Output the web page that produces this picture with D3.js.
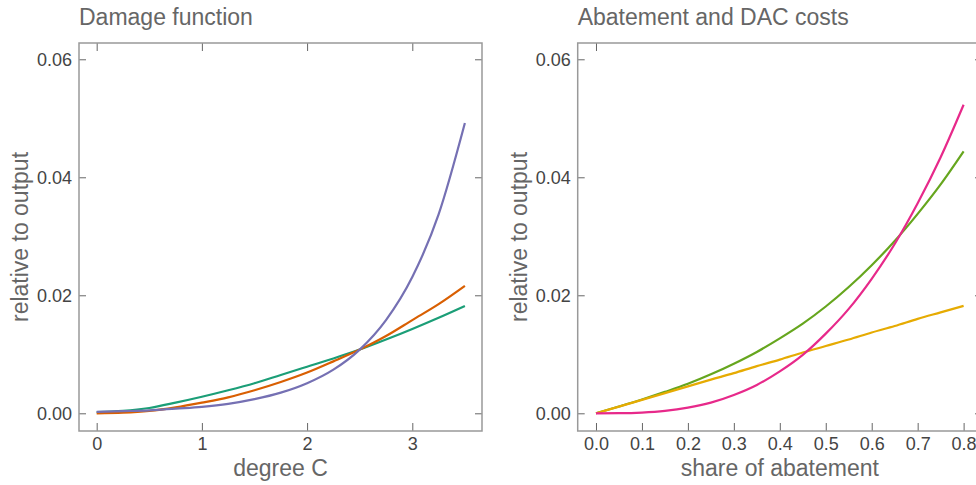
<!DOCTYPE html>
<html>
<head>
<meta charset="utf-8">
<script src="https://cdn.jsdelivr.net/npm/d3@7"></script>
<style>
  body { margin: 0; background: #fff; }
  svg { display: block; font-family: "Liberation Sans", Arial, sans-serif; }
  .tick text { fill: #444; font-size: 18px; }
  .tick line { stroke: #666; stroke-width: 1; }
  .title, .label { fill: #666; font-size: 23px; }
</style>
</head>
<body>
<div id="chart"></div>
<script>
(function() {
  var width = 976;
  var height = 485;

  // damage function, x = degree C
  var degrees = [0, 0.25, 0.5, 0.75, 1, 1.25, 1.5, 1.75, 2, 2.25, 2.5, 2.75, 3, 3.25, 3.5];
  var damageGreen = [0.0002, 0.0004, 0.0009, 0.0018, 0.0028, 0.0039, 0.0051, 0.0065, 0.0079, 0.0093, 0.0108, 0.0125, 0.0143, 0.0162, 0.0182];
  var damageOrange = [0.0000, 0.0001, 0.0004, 0.0010, 0.0018, 0.0027, 0.0039, 0.0053, 0.0069, 0.0088, 0.0108, 0.0131, 0.0158, 0.0185, 0.0216];
  var damagePurple = [0.00025, 0.00036, 0.0005, 0.0008, 0.0011, 0.0016, 0.0024, 0.0035, 0.0051, 0.0074, 0.0108, 0.0158, 0.0231, 0.0337, 0.0492];

  // abatement and DAC costs, x = share of abatement
  var shares = [0, 0.05, 0.1, 0.15, 0.2, 0.25, 0.3, 0.35, 0.4, 0.45, 0.5, 0.55, 0.6, 0.65, 0.7, 0.75, 0.8];
  var costPink = [0, 0.00002, 0.00013, 0.00041, 0.00095, 0.0018, 0.0031, 0.0048, 0.0071, 0.0099, 0.0135, 0.0177, 0.0228, 0.0287, 0.0356, 0.0434, 0.0523];
  var costGreen = [0, 0.00115, 0.00234, 0.00363, 0.0050, 0.0066, 0.0084, 0.0104, 0.0127, 0.0152, 0.0181, 0.0214, 0.0251, 0.0292, 0.0338, 0.0388, 0.0444];
  var costYellow = [0, 0.00114, 0.00228, 0.00342, 0.00456, 0.0057, 0.0068, 0.0080, 0.0091, 0.0103, 0.0114, 0.0125, 0.0137, 0.0148, 0.0160, 0.0171, 0.0182];

  var yTicks = [0, 0.02, 0.04, 0.06];
  var degreeTicks = [0, 1, 2, 3];
  var shareTicks = [0, 0.1, 0.2, 0.3, 0.4, 0.5, 0.6, 0.7, 0.8];

  var top = 43, bottom = 431;

  var svg = d3.select('#chart').append('svg')
    .attr('width', width)
    .attr('height', height);

  var y = d3.scaleLinear().domain([-0.003, 0.06276]).range([bottom, top]);

  drawPanel({
    left: 79, right: 482,
    xDomain: [-0.168, 3.6625],
    xTicks: degreeTicks,
    topTicks: degreeTicks,
    format: d3.format('d'),
    title: 'Damage function',
    xLabel: 'degree C',
    xs: degrees,
    series: [
      { values: damageGreen, color: '#1b9e77' },
      { values: damageOrange, color: '#d95f02' },
      { values: damagePurple, color: '#7570b3' }
    ]
  });

  drawPanel({
    left: 577.7, right: 982,
    xDomain: [-0.0398, 0.84],
    xTicks: shareTicks,
    topTicks: [0],
    format: d3.format('.1f'),
    title: 'Abatement and DAC costs',
    xLabel: 'share of abatement',
    xs: shares,
    series: [
      { values: costGreen, color: '#66a61e' },
      { values: costYellow, color: '#e6ab02' },
      { values: costPink, color: '#e7298a' }
    ]
  });

  function drawPanel(p) {
    var x = d3.scaleLinear().domain(p.xDomain).range([p.left, p.right]);
    var g = svg.append('g');

    g.append('g')
      .attr('transform', 'translate(0,' + bottom + ')')
      .call(d3.axisBottom(x).tickValues(p.xTicks).tickFormat(p.format).tickSizeInner(-8).tickSizeOuter(0).tickPadding(6))
      .call(cleanAxis);

    g.append('g')
      .attr('transform', 'translate(0,' + top + ')')
      .call(d3.axisTop(x).tickValues(p.topTicks).tickFormat('').tickSizeInner(-8).tickSizeOuter(0))
      .call(cleanAxis);

    g.append('g')
      .attr('transform', 'translate(' + p.left + ',0)')
      .call(d3.axisLeft(y).tickValues(yTicks).tickFormat(d3.format('.2f')).tickSizeInner(-7).tickSizeOuter(0).tickPadding(7))
      .call(cleanAxis);

    g.append('g')
      .attr('transform', 'translate(' + p.right + ',0)')
      .call(d3.axisRight(y).tickValues(yTicks).tickFormat('').tickSizeInner(-7).tickSizeOuter(0))
      .call(cleanAxis);

    g.append('rect')
      .attr('x', p.left)
      .attr('y', top)
      .attr('width', p.right - p.left)
      .attr('height', bottom - top)
      .attr('fill', 'none')
      .attr('stroke', '#999')
      .attr('stroke-width', 1.5);

    var line = d3.line()
      .x(function(d) { return x(d[0]); })
      .y(function(d) { return y(d[1]); })
      .curve(d3.curveMonotoneX);

    p.series.forEach(function(s) {
      g.append('path')
        .datum(p.xs.map(function(v, i) { return [v, s.values[i]]; }))
        .attr('d', line)
        .attr('fill', 'none')
        .attr('stroke', s.color)
        .attr('stroke-width', 2.2);
    });

    g.append('text')
      .attr('class', 'title')
      .attr('x', p.left)
      .attr('y', 25)
      .text(p.title);

    g.append('text')
      .attr('class', 'label')
      .attr('x', (p.left + p.right) / 2)
      .attr('y', 476)
      .attr('text-anchor', 'middle')
      .text(p.xLabel);

    g.append('text')
      .attr('class', 'label')
      .attr('transform', 'translate(' + (p.left - 51) + ',' + ((top + bottom) / 2) + ') rotate(-90)')
      .attr('text-anchor', 'middle')
      .text('relative to output');
  }

  function cleanAxis(sel) {
    sel.select('.domain').remove();
    sel.attr('font-family', null).attr('font-size', null);
  }
})();
</script>
</body>
</html>
